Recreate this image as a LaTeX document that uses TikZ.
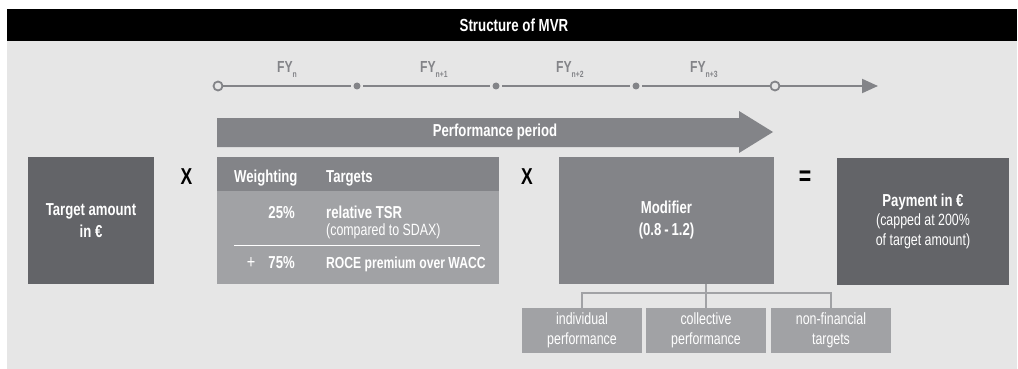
\documentclass[tikz,border=0pt]{standalone}
\usepackage{fontspec}
\setmainfont{Liberation Sans}[FakeStretch=0.76]
\usetikzlibrary{arrows.meta,calc}
\definecolor{bgc}{HTML}{E6E6E6}
\definecolor{darkbox}{HTML}{636468}
\definecolor{midbox}{HTML}{838488}
\definecolor{lightbox}{HTML}{A1A2A5}
\begin{document}
\begin{tikzpicture}[x=1pt,y=-1pt,
  boxbase/.style={rectangle, inner sep=0pt, outer sep=0pt, text=white, align=center},
  darkbx/.style={boxbase, fill=darkbox, minimum height=127pt},
  midbx/.style={boxbase, fill=midbox},
  lightbx/.style={boxbase, fill=lightbox},
  boldtxt/.style={font=\bfseries\fontsize{17.3}{22}\selectfont},
  regtxt/.style={font=\fontsize{16.3}{19.5}\selectfont},
  optxt/.style={font=\bfseries\fontsize{23}{23}\selectfont, text=black},
  subtxt/.style={},
  fylabel/.style={anchor=base west, text=midbox, font=\bfseries\fontsize{16}{16}\selectfont, inner sep=0pt},
  opencirc/.style={circle, draw=midbox, line width=1.8pt, fill=bgc, minimum size=9pt, inner sep=0pt},
  dotc/.style={circle, fill=midbox, minimum size=7pt, inner sep=0pt, outer sep=2.5pt},
  tline/.style={draw=midbox, line width=2pt},
  tree/.style={draw=lightbox, line width=1.5pt},
  celltxt/.style={inner sep=0pt, text=white}
]
\newcommand{\fysub}[1]{\raisebox{-5pt}{\fontsize{9}{9}\selectfont #1}}
\useasboundingbox (0,0) rectangle (1018,369);
\fill[white] (0,0) rectangle (1018,369);
\fill[bgc] (7,41) rectangle (1017,369);
\fill[black] (7,9) rectangle (1017,41);
\node[text=white, font=\bfseries\fontsize{17.5}{17.5}\selectfont] (title) at (514,25) {Structure of MVR};

% timeline
\node[opencirc] (t0) at (218,86) {};
\node[dotc] (t1) at (357,86) {};
\node[dotc] (t2) at (496,86) {};
\node[dotc] (t3) at (636,86) {};
\node[opencirc] (t4) at (775,86) {};
\coordinate (tend) at (878,86);
\draw[tline] (t0) -- (t1);
\draw[tline] (t1) -- (t2);
\draw[tline] (t2) -- (t3);
\draw[tline] (t3) -- (t4);
\draw[tline, -{Triangle[length=16pt,width=14pt]}] (t4) -- (tend);
\node[fylabel] (fy0) at (277,73) {FY\fysub{n}};
\node[fylabel] (fy1) at (420,73) {FY\fysub{n+1}};
\node[fylabel] (fy2) at (556,73) {FY\fysub{n+2}};
\node[fylabel] (fy3) at (690,73) {FY\fysub{n+3}};

% performance period arrow
\fill[midbox] (217,118) -- (739,118) -- (739,111) -- (773,132) -- (739,153) -- (739,147) -- (217,147) -- cycle;
\node[boldtxt, text=white] (perf) at (495,132) {Performance period};

% target amount
\node[darkbx, minimum width=126pt, boldtxt] (target) at (91,220.5) {Target amount\\in €};
\node[optxt] (x1) at (186.5,177) {X};

% table
\node[midbx, minimum width=282pt, minimum height=34pt] (thead) at (358,174) {};
\node[lightbx, minimum width=282pt, minimum height=93pt] (tbody) at (358,237.5) {};
\draw[white, line width=1pt] (234,245) -- (480,245);
\node[celltxt, anchor=base west, boldtxt] (hw) at (234,182) {Weighting};
\node[celltxt, anchor=base west, boldtxt] (ht) at (326,182) {Targets};
\node[celltxt, anchor=base east, boldtxt] (p25) at (295,218) {25\%};
\node[celltxt, anchor=base west, boldtxt] (tsr) at (326,218) {relative TSR};
\node[celltxt, anchor=base west, regtxt] (sdax) at (326,235.5) {(compared to SDAX)};
\node[celltxt, anchor=base, font=\fontsize{19}{19}\selectfont] (plus) at (251,268) {+};
\node[celltxt, anchor=base east, boldtxt] (p75) at (295,268) {75\%};
\node[celltxt, anchor=base west, font=\bfseries\fontsize{16}{18}\selectfont] (roce) at (326,268) {ROCE premium over WACC};

\node[optxt] (x2) at (527,177) {X};

% modifier
\node[midbx, minimum width=215pt, minimum height=127pt, boldtxt] (mod) at (666.5,220.5) {Modifier\\(0.8\,-\,1.2)};
\node[optxt, font=\bfseries\fontsize{28}{28}\selectfont] (eq) at (805,178) {=};

% payment
\node[darkbx, minimum width=172pt, regtxt] (pay) at (923,221) {{\bfseries\fontsize{17.3}{20}\selectfont Payment in €}\\(capped at 200\%\\of target amount)};

% sub-boxes
\node[lightbx, minimum width=120pt, minimum height=45pt, regtxt] (ind) at (582,330.5) {individual\\performance};
\node[lightbx, minimum width=120pt, minimum height=45pt, regtxt] (col) at (706,330.5) {collective\\performance};
\node[lightbx, minimum width=120pt, minimum height=45pt, regtxt] (non) at (831,330.5) {non-financial\\targets};
\coordinate (j) at (706,293);
\draw[tree] (col.north |- mod.south) -- (j);
\draw[tree] (j) -- (col.north);
\draw[tree] (j) -| (ind.north);
\draw[tree] (j) -| (non.north);
\end{tikzpicture}
\end{document}
